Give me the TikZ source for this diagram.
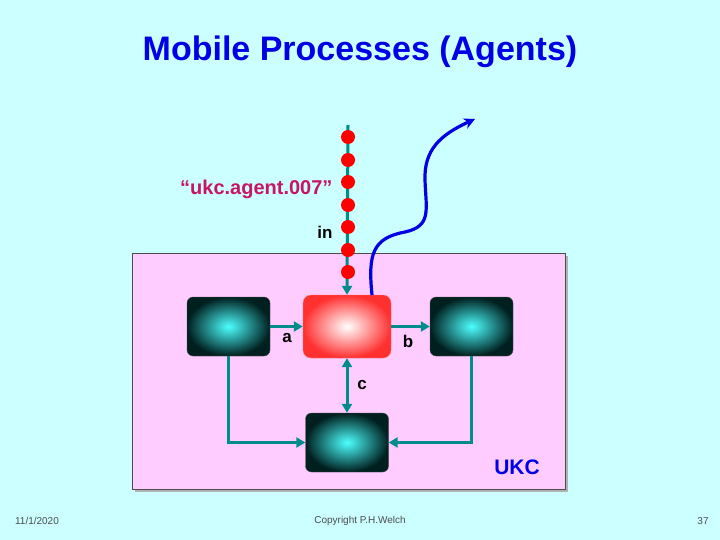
\documentclass[tikz,border=0pt]{standalone}
\usepackage{fontspec}
\setmainfont{Liberation Sans}
\usetikzlibrary{arrows.meta}
\definecolor{bg}{RGB}{204,255,255}
\definecolor{pinkbg}{RGB}{255,204,255}
\definecolor{teal1}{RGB}{0,140,140}
\definecolor{ttl}{RGB}{0,0,230}
\definecolor{agent}{RGB}{200,20,100}
\tikzset{
  proc/.style={rounded corners=6pt, inner color=cyan!70, outer color=black!75!teal, draw=black!70, minimum width=83pt, minimum height=59pt},
  chan/.style={teal1, line width=3pt, -{Triangle[length=9pt,width=10pt]}},
  lbl/.style={font=\bfseries\fontsize{17}{17}\selectfont},
  dot/.style={circle, fill=red, inner sep=0pt, minimum size=14pt}
}
\begin{document}
\begin{tikzpicture}[x=1pt,y=-1pt]
\fill[bg] (0,0) rectangle (720,540);
\useasboundingbox (0,0) rectangle (720,540);
\node[font=\bfseries\fontsize{34}{34}\selectfont, text=ttl] (title) at (360,52) {Mobile Processes (Agents)};
\fill[gray!60] (135,256) rectangle (568,492);
\node[draw=black!70, fill=pinkbg, minimum width=433pt, minimum height=236pt, inner sep=0pt] (ukc) at (348.5,371) {};
\node[proc] (L) at (228.5,326.5) {};
\node[proc] (R) at (471.5,326.5) {};
\node[proc] (B) at (347,442.5) {};
\node[rounded corners=8pt, inner color=white, outer color=red!75!pink, draw=red!40!pink, minimum width=88pt, minimum height=63pt] (C) at (347,326.5) {};
\coordinate (top) at (348,125);
\draw[chan] (top) -- (C.north);
\foreach \i/\y in {1/137,2/160,3/182,4/205,5/227,6/250,7/272} \node[dot] (d\i) at (348,\y) {};
\draw[chan] (L.east) -- (C.west);
\draw[chan] (C.east) -- (R.west);
\draw[chan, {Triangle[length=9pt,width=10pt]}-{Triangle[length=9pt,width=10pt]}] (C.south) -- (B.north);
\draw[chan] (L.south) |- (B.west);
\draw[chan] (R.south) |- (B.east);
\node[lbl] (la) at (287,338) {a};
\node[lbl] (lb) at (408,341) {b};
\node[lbl] (lc) at (362,385) {c};
\node[lbl, anchor=east] (lin) at (336,232) {in};
\node[anchor=east, text=agent, font=\bfseries\fontsize{20}{20}\selectfont] (name) at (336,189) {“ukc.agent.007”};
\node[text=ttl, font=\bfseries\fontsize{21}{21}\selectfont] (lukc) at (517,467) {UKC};
\coordinate (e) at (475,119);
\draw[ttl, line width=3.2pt, -{Stealth[length=11pt,width=11pt]}] (372,295) .. controls (368,255) and (372,238) .. (405,232) .. controls (432,226) and (426,210) .. (425,180) .. controls (424,150) and (440,135) .. (e);
\node[font=\fontsize{10}{10}\selectfont, text=gray!60!black] (f1) at (37,521) {11/1/2020};
\node[font=\fontsize{10}{10}\selectfont, text=gray!60!black] (f2) at (360,521) {Copyright P.H.Welch};
\node[font=\fontsize{10}{10}\selectfont, text=gray!60!black] (f3) at (703,521) {37};
\end{tikzpicture}
\end{document}
